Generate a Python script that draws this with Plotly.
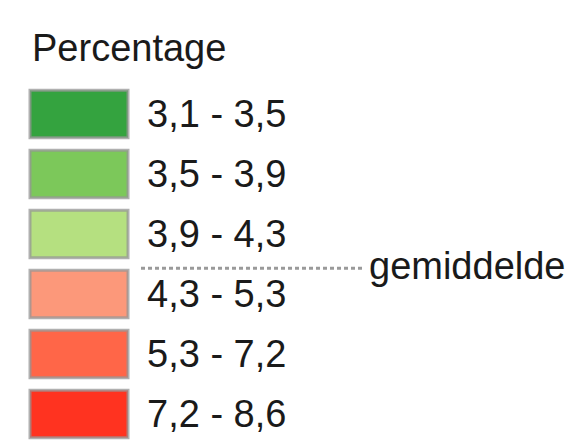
import plotly.graph_objects as go

title = "Percentage"
labels = ["3,1 - 3,5", "3,5 - 3,9", "3,9 - 4,3", "4,3 - 5,3", "5,3 - 7,2", "7,2 - 8,6"]
colors = ["#34a33f", "#7cc85a", "#b5e080", "#fc987a", "#ff6648", "#ff3320"]
rows = list(range(len(labels)))
mean_label = "gemiddelde"
mean_after_row = 2  # dashed line sits between class 3 and class 4

FONT = "Liberation Sans, Arial, sans-serif"
FS = 38
OFF = 8  # page body margin in the browser

fig = go.Figure()
fig.add_trace(go.Bar(
    y=rows, x=[98] * len(rows), base=[30] * len(rows), orientation="h",
    width=0.79,
    marker=dict(color=colors, line=dict(color="rgba(150,150,150,0.75)", width=3)),
    hoverinfo="skip", showlegend=False,
))
for r, lab in zip(rows, labels):
    fig.add_annotation(x=145, y=r, text=lab, xanchor="left", yanchor="middle",
                       showarrow=False, font=dict(family=FONT, size=FS, color="#1a1a1a"))
fig.add_annotation(x=30, y=-1.1, text=title, xanchor="left", yanchor="middle",
                   showarrow=False, font=dict(family=FONT, size=FS, color="#1a1a1a"))
yl = mean_after_row + 0.57
fig.add_trace(go.Scatter(x=[141, 362], y=[yl, yl], mode="lines",
                         line=dict(color="#9a9a9a", width=3, dash="4px,3px"),
                         hoverinfo="skip", showlegend=False))
fig.add_annotation(x=367, y=yl - 0.03, text=mean_label, xanchor="left", yanchor="middle",
                   showarrow=False, font=dict(family=FONT, size=FS, color="#1a1a1a"))

dy = OFF / 60.0
fig.update_layout(
    width=574, height=440, margin=dict(l=0, r=0, t=0, b=0),
    paper_bgcolor="white", plot_bgcolor="white",
    xaxis=dict(range=[OFF, 574 + OFF], visible=False, fixedrange=True),
    yaxis=dict(range=[5.433 + dy, -1.9 + dy], visible=False, fixedrange=True),
)
fig.write_html("out.html")
